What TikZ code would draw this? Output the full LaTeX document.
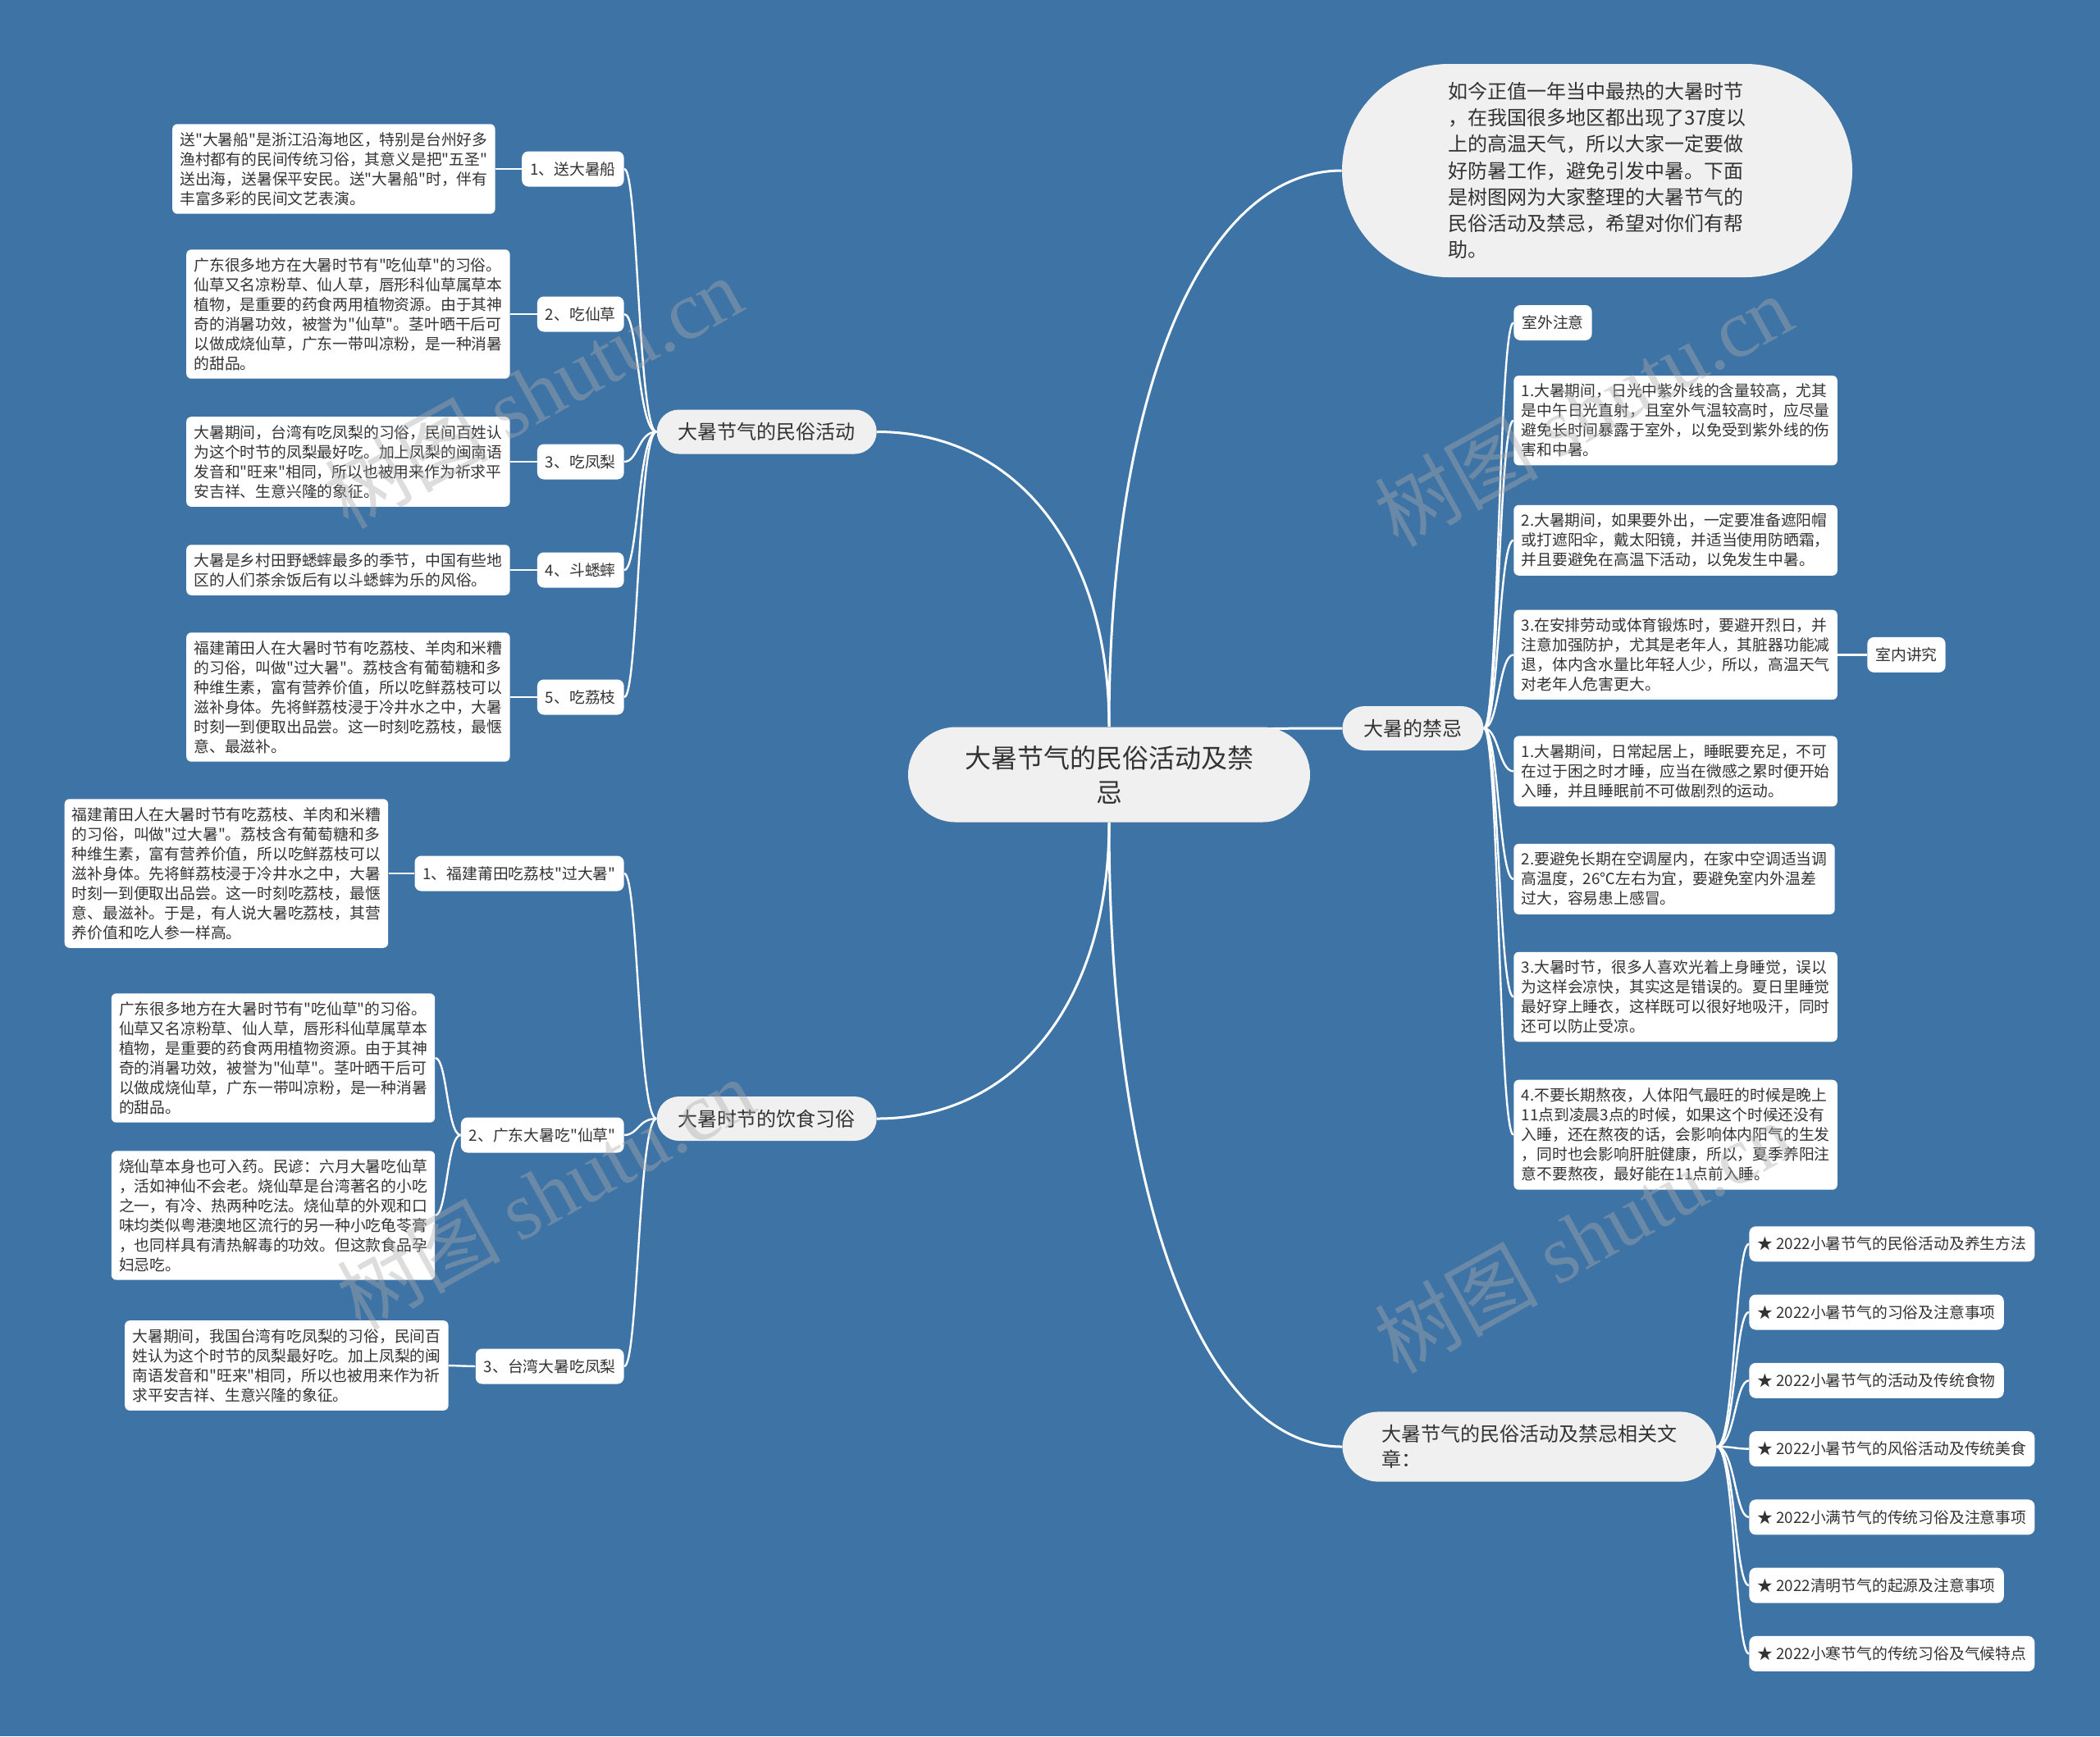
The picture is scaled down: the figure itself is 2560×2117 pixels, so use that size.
\documentclass[tikz,border=0pt]{standalone}
\usepackage{fontspec}
\setmainfont{Noto Sans CJK SC}[Ligatures=TeXOff]
\newfontfamily\wmserif{Liberation Serif}
\definecolor{bgblue}{RGB}{62,115,166}
\definecolor{txt}{RGB}{51,51,51}
\definecolor{pill}{RGB}{240,240,240}
\definecolor{wmgray}{RGB}{170,170,170}
\pgfdeclarelayer{bglayer}
\pgfdeclarelayer{edges}
\pgfsetlayers{bglayer,edges,main}
\tikzset{
  leaf/.style={fill=white, rounded corners=3pt, align=left, font=\fontsize{9.4}{12}\selectfont, text=txt, inner xsep=4.6pt, inner ysep=5pt},
  lab/.style={fill=white, rounded corners=4pt, font=\fontsize{9.4}{12}\selectfont, text=txt, inner xsep=5pt, inner ysep=3pt, minimum height=21.5pt},
  art/.style={lab, font=\fontsize{9.4}{12}\selectfont},
  branch/.style={fill=pill, rounded corners=13.5pt, font=\fontsize{12}{15.5}\selectfont, text=txt, inner xsep=13pt, inner ysep=7pt, minimum height=27pt},
  centre/.style={fill=pill, rounded corners=29pt, align=center, font=\fontsize{16}{21}\selectfont, text=txt, minimum width=245pt, minimum height=58pt, inner ysep=6pt},
  intro/.style={fill=pill, rounded corners=65pt, align=left, font=\fontsize{12}{16.1}\selectfont, text=txt, minimum width=311pt, minimum height=130pt},
  link/.style={draw=white, line width=1.2pt},
  mainlink/.style={draw=white, line width=1.5pt},
  wm/.style={text=wmgray, opacity=0.4, rotate=29, font=\fontsize{50}{54}\selectfont}
}
\begin{document}
\begin{tikzpicture}[x=0.5pt,y=-0.5pt]
\useasboundingbox (0,0) rectangle (2560,2117);
\begin{pgfonlayer}{bglayer}
\fill[bgblue] (0,0) rectangle (2560,2117);
\end{pgfonlayer}

% centre and main branches
\node[centre] (C) at (1352,944.5) {大暑节气的民俗活动及禁\\忌};
\node[branch] (B1) at (934.7,526.5) {大暑节气的民俗活动};
\node[branch] (B2) at (934.7,1364) {大暑时节的饮食习俗};
\node[branch, anchor=west] (B3) at (1636,888) {大暑的禁忌};
\node[intro] (I) at (1947,208) {如今正值一年当中最热的大暑时节\\，在我国很多地区都出现了37度以\\上的高温天气，所以大家一定要做\\好防暑工作，避免引发中暑。下面\\是树图网为大家整理的大暑节气的\\民俗活动及禁忌，希望对你们有帮\\助。};
\node[branch, anchor=west, align=left, rounded corners=22pt, inner xsep=24pt, inner ysep=8pt] (B4) at (1636,1764) {大暑节气的民俗活动及禁忌相关文\\章：};

% branch 1 labels and leaves
\node[lab, anchor=east] (L1) at (761,206) {1、送大暑船};
\node[lab, anchor=east] (L2) at (761,383) {2、吃仙草};
\node[lab, anchor=east] (L3) at (761,563) {3、吃凤梨};
\node[lab, anchor=east] (L4) at (761,695) {4、斗蟋蟀};
\node[lab, anchor=east] (L5) at (761,850) {5、吃荔枝};
\node[leaf, anchor=east] (L1t) at (604,206) {送"大暑船"是浙江沿海地区，特别是台州好多\\渔村都有的民间传统习俗，其意义是把"五圣"\\送出海，送暑保平安民。送"大暑船"时，伴有\\丰富多彩的民间文艺表演。};
\node[leaf, anchor=east] (L2t) at (622,383) {广东很多地方在大暑时节有"吃仙草"的习俗。\\仙草又名凉粉草、仙人草，唇形科仙草属草本\\植物，是重要的药食两用植物资源。由于其神\\奇的消暑功效，被誉为"仙草"。茎叶晒干后可\\以做成烧仙草，广东一带叫凉粉，是一种消暑\\的甜品。};
\node[leaf, anchor=east] (L3t) at (622,563) {大暑期间，台湾有吃凤梨的习俗，民间百姓认\\为这个时节的凤梨最好吃。加上凤梨的闽南语\\发音和"旺来"相同，所以也被用来作为祈求平\\安吉祥、生意兴隆的象征。};
\node[leaf, anchor=east] (L4t) at (622,695) {大暑是乡村田野蟋蟀最多的季节，中国有些地\\区的人们茶余饭后有以斗蟋蟀为乐的风俗。};
\node[leaf, anchor=east] (L5t) at (622,850) {福建莆田人在大暑时节有吃荔枝、羊肉和米糟\\的习俗，叫做"过大暑"。荔枝含有葡萄糖和多\\种维生素，富有营养价值，所以吃鲜荔枝可以\\滋补身体。先将鲜荔枝浸于冷井水之中，大暑\\时刻一到便取出品尝。这一时刻吃荔枝，最惬\\意、最滋补。};

% branch 2 labels and leaves
\node[lab, anchor=east] (M1) at (761,1065) {1、福建莆田吃荔枝"过大暑"};
\node[lab, anchor=east] (M2) at (761,1384) {2、广东大暑吃"仙草"};
\node[lab, anchor=east] (M3) at (761,1666) {3、台湾大暑吃凤梨};
\node[leaf, anchor=east] (M1t) at (473.5,1065) {福建莆田人在大暑时节有吃荔枝、羊肉和米糟\\的习俗，叫做"过大暑"。荔枝含有葡萄糖和多\\种维生素，富有营养价值，所以吃鲜荔枝可以\\滋补身体。先将鲜荔枝浸于冷井水之中，大暑\\时刻一到便取出品尝。这一时刻吃荔枝，最惬\\意、最滋补。于是，有人说大暑吃荔枝，其营\\养价值和吃人参一样高。};
\node[leaf, anchor=east] (M2a) at (530.6,1290) {广东很多地方在大暑时节有"吃仙草"的习俗。\\仙草又名凉粉草、仙人草，唇形科仙草属草本\\植物，是重要的药食两用植物资源。由于其神\\奇的消暑功效，被誉为"仙草"。茎叶晒干后可\\以做成烧仙草，广东一带叫凉粉，是一种消暑\\的甜品。};
\node[leaf, anchor=east] (M2b) at (530.6,1482) {烧仙草本身也可入药。民谚：六月大暑吃仙草\\，活如神仙不会老。烧仙草是台湾著名的小吃\\之一，有冷、热两种吃法。烧仙草的外观和口\\味均类似粤港澳地区流行的另一种小吃龟苓膏\\，也同样具有清热解毒的功效。但这款食品孕\\妇忌吃。};
\node[leaf, anchor=east] (M3t) at (547,1665) {大暑期间，我国台湾有吃凤梨的习俗，民间百\\姓认为这个时节的凤梨最好吃。加上凤梨的闽\\南语发音和"旺来"相同，所以也被用来作为祈\\求平安吉祥、生意兴隆的象征。};

% branch 3
\node[lab, anchor=west] (R0) at (1845,393.5) {室外注意};
\node[leaf, anchor=west] (R1) at (1845,512.7) {1.大暑期间，日光中紫外线的含量较高，尤其\\是中午日光直射，且室外气温较高时，应尽量\\避免长时间暴露于室外，以免受到紫外线的伤\\害和中暑。};
\node[leaf, anchor=west] (R2) at (1845,658.8) {2.大暑期间，如果要外出，一定要准备遮阳帽\\或打遮阳伞，戴太阳镜，并适当使用防晒霜，\\并且要避免在高温下活动，以免发生中暑。};
\node[leaf, anchor=west] (R3) at (1845,798.4) {3.在安排劳动或体育锻炼时，要避开烈日，并\\注意加强防护，尤其是老年人，其脏器功能减\\退，体内含水量比年轻人少，所以，高温天气\\对老年人危害更大。};
\node[lab, anchor=west] (RN) at (2276,798.4) {室内讲究};
\node[leaf, anchor=west] (R4) at (1845,940.4) {1.大暑期间，日常起居上，睡眠要充足，不可\\在过于困之时才睡，应当在微感之累时便开始\\入睡，并且睡眠前不可做剧烈的运动。};
\node[leaf, anchor=west] (R5) at (1845,1071.9) {2.要避免长期在空调屋内，在家中空调适当调\\高温度，26℃左右为宜，要避免室内外温差\\过大，容易患上感冒。};
\node[leaf, anchor=west] (R6) at (1845,1215.5) {3.大暑时节，很多人喜欢光着上身睡觉，误以\\为这样会凉快，其实这是错误的。夏日里睡觉\\最好穿上睡衣，这样既可以很好地吸汗，同时\\还可以防止受凉。};
\node[leaf, anchor=west] (R7) at (1845,1383.7) {4.不要长期熬夜，人体阳气最旺的时候是晚上\\11点到凌晨3点的时候，如果这个时候还没有\\入睡，还在熬夜的话，会影响体内阳气的生发\\，同时也会影响肝脏健康，所以，夏季养阳注\\意不要熬夜，最好能在11点前入睡。};

% branch 4 articles
\node[art, anchor=west] (A1) at (2132,1516.8) {★ 2022小暑节气的民俗活动及养生方法};
\node[art, anchor=west] (A2) at (2132,1600) {★ 2022小暑节气的习俗及注意事项};
\node[art, anchor=west] (A3) at (2132,1683.3) {★ 2022小暑节气的活动及传统食物};
\node[art, anchor=west] (A4) at (2132,1766.6) {★ 2022小暑节气的风俗活动及传统美食};
\node[art, anchor=west] (A5) at (2132,1849.9) {★ 2022小满节气的传统习俗及注意事项};
\node[art, anchor=west] (A6) at (2132,1933.1) {★ 2022清明节气的起源及注意事项};
\node[art, anchor=west] (A7) at (2132,2016.4) {★ 2022小寒节气的传统习俗及气候特点};

% connectors
\begin{pgfonlayer}{edges}
\draw[mainlink] (C.north) .. controls (1352,670) and (1239,526.5) .. (B1.east);
\draw[mainlink] (C.north) .. controls (1352,480) and (1466,208) .. (I.west);
\draw[mainlink] (C.center) .. controls (1352,888) and (1500,888) .. (B3.west);
\draw[mainlink] (C.south) .. controls (1352,1220) and (1239,1364) .. (B2.east);
\draw[mainlink] (C.south) .. controls (1352,1460) and (1466,1764) .. (B4.west);
\foreach \n/\yy in {L1/206,L2/383,L3/563,L4/695,L5/850}
  \draw[link] (B1.west) .. controls (778,526.5) and (778,\yy) .. (\n.east);
\foreach \n in {L1,L2,L3,L4,L5}
  \draw[link] (\n t.east) -- (\n.west);
\foreach \n/\yy in {M1/1065,M2/1384,M3/1666}
  \draw[link] (B2.west) .. controls (778,1364) and (778,\yy) .. (\n.east);
\draw[link] (M1t.east) -- (M1.west);
\draw[link] (M3t.east) -- (M3.west);
\foreach \n/\yy in {M2a/1290,M2b/1482}
  \draw[link] (M2.west) .. controls (545,1384) and (545,\yy) .. (\n.east);
\foreach \n/\yy in {R0/393.5,R1/512.7,R2/658.8,R3/798.4,R4/940.4,R5/1071.9,R6/1215.5,R7/1383.7}
  \draw[link] (B3.east) .. controls (1827,888) and (1827,\yy) .. (\n.west);
\draw[link] (R3.east) -- (RN.west);
\foreach \n/\yy in {A1/1516.8,A2/1600,A3/1683.3,A4/1766.6,A5/1849.9,A6/1933.1,A7/2016.4}
  \draw[link] (B4.east) .. controls (2115,1764) and (2115,\yy) .. (\n.west);
\end{pgfonlayer}

% watermarks
\node[wm] (W1) at (650,478) {树图 {\wmserif shutu.cn}};
\node[wm] (W2) at (665,1455) {树图 {\wmserif shutu.cn}};
\node[wm] (W3) at (1930,500) {树图 {\wmserif shutu.cn}};
\node[wm] (W4) at (1930,1508) {树图 {\wmserif shutu.cn}};
\end{tikzpicture}
\end{document}
